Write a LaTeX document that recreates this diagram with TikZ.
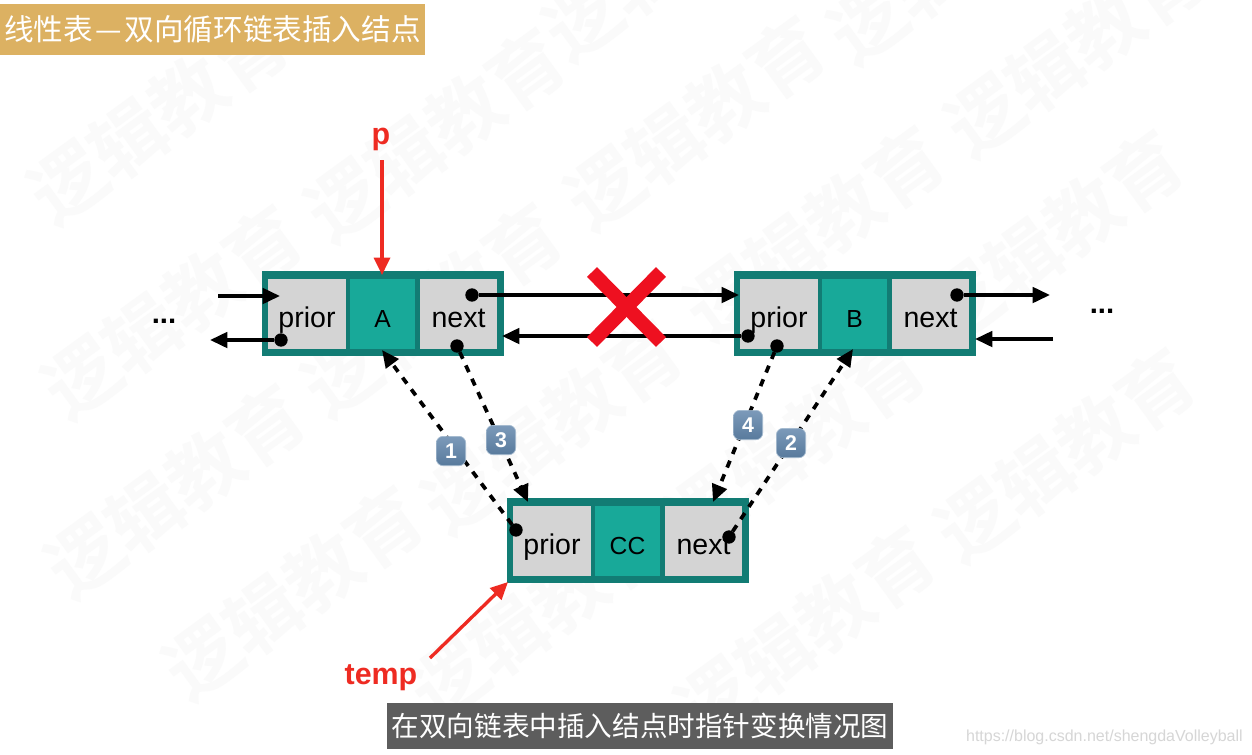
\documentclass[tikz,border=0pt]{standalone}
\usepackage{fontspec}
\setmainfont{Liberation Sans}
\newfontfamily\cjk{Noto Sans CJK SC}
\newfontfamily\cjkb{Noto Sans CJK SC Bold}
\usetikzlibrary{arrows.meta}
\definecolor{teald}{HTML}{127C74}
\definecolor{tealm}{HTML}{18A999}
\definecolor{cellg}{HTML}{D4D4D4}
\definecolor{redm}{HTML}{EE2B22}
\definecolor{redx}{HTML}{EE1020}
\definecolor{gold}{HTML}{DCB162}
\definecolor{capg}{HTML}{5D5D5D}
\definecolor{wm}{HTML}{FAFAFA}
\definecolor{badt}{HTML}{7C9ABA}
\definecolor{badb}{HTML}{587A9C}
\definecolor{bade}{HTML}{A4BACF}
\tikzset{
  outerbox/.style={fill=teald,draw=none,inner sep=0pt,outer sep=0pt,minimum width=181.5pt,minimum height=63.75pt},
  cellbox/.style={fill=cellg,inner sep=0pt,outer sep=0pt,minimum width=58pt,minimum height=52pt,text height=19.5pt,text depth=0pt,font=\fontsize{21.4pt}{24pt}\selectfont},
  midbox/.style={fill=tealm,inner sep=0pt,outer sep=0pt,minimum width=49pt,minimum height=52pt,text height=19.5pt,text depth=0pt,font=\fontsize{18.5pt}{22pt}\selectfont},
  dotn/.style={circle,fill=black,inner sep=0pt,outer sep=0pt,minimum size=10pt},
  link/.style={line width=2.8pt,-{Triangle[length=13pt,width=11.5pt]},black},
  dlink/.style={link,dash pattern=on 5.5pt off 5.5pt},
  redlink/.style={line width=2.5pt,redm,-{Triangle[length=13pt,width=12pt]}},
  crossbar/.style={redx,line width=10.5pt},
  badge/.style={rounded corners=5pt,top color=badt,bottom color=badb,draw=bade,line width=0.5pt,minimum size=22pt,inner sep=0pt,text=white,font=\fontsize{16pt}{18pt}\selectfont\bfseries},
  redtxt/.style={text=redm,font=\fontsize{22.8pt}{26pt}\selectfont\bfseries,inner sep=0pt},
  dots/.style={font=\fontsize{22pt}{24pt}\selectfont\bfseries,inner sep=0pt},
  wmark/.style={text=wm,rotate=36,inner sep=0pt,font=\fontsize{56pt}{60pt}\cjkb},
  title/.style={fill=gold,text=white,inner sep=0pt,outer sep=0pt,minimum width=319pt,minimum height=38.25pt,font=\fontsize{22.2pt}{25pt}\cjk},
  capbox/.style={fill=capg,text=white,inner sep=0pt,outer sep=0pt,minimum width=379.5pt,minimum height=34.5pt,font=\fontsize{20.7pt}{25pt}\cjk},
  url/.style={text=black!16,inner sep=0pt,font=\fontsize{12pt}{14pt}\selectfont}
}
\newcommand{\dlnode}[4]{%
  \node[outerbox] (#1o) at (#2+382.75,#3+313.5) {};
  \node[cellbox] (#1p) at (#2+307,#3+314) {prior};
  \node[midbox] (#1m) at (#2+382.5,#3+314) {#4};
  \node[cellbox] (#1n) at (#2+458.5,#3+314) {next};
}
\begin{document}
\begin{tikzpicture}[x=0.75pt,y=-0.75pt]
\useasboundingbox (0,0) rectangle (1252,754);
\fill[white] (0,0) rectangle (1252,754);
% watermark
\begin{scope}
\clip (0,0) rectangle (1252,754);
\node[wmark] (w01) at (673,-46) {逻辑教育};
\node[wmark] (w02) at (958,-43) {逻辑教育};
\node[wmark] (w11) at (158,117) {逻辑教育};
\node[wmark] (w12) at (435,135) {逻辑教育};
\node[wmark] (w13) at (695,123) {逻辑教育};
\node[wmark] (w14) at (1075,50) {逻辑教育};
\node[wmark] (w21) at (172,312) {逻辑教育};
\node[wmark] (w22) at (432,310) {逻辑教育};
\node[wmark] (w23) at (814,233) {逻辑教育};
\node[wmark] (w24) at (1053,237) {逻辑教育};
\node[wmark] (w31) at (175,491) {逻辑教育};
\node[wmark] (w32) at (552,427) {逻辑教育};
\node[wmark] (w33) at (795,443) {逻辑教育};
\node[wmark] (w34) at (1065,455) {逻辑教育};
\node[wmark] (w41) at (293,593) {逻辑教育};
\node[wmark] (w42) at (539,614) {逻辑教育};
\node[wmark] (w43) at (805,633) {逻辑教育};
\end{scope}
% title and caption
\node[title] (ttl) at (212.5,29.5) {线性表\hspace{2pt}—\hspace{2pt}双向循环链表插入结点\hspace{6pt}};
\node[capbox] (cap) at (640,726) {在双向链表中插入结点时指针变换情况图};
\node[url,anchor=east] (urlt) at (1243,737) {https://blog.csdn.net/shengdaVolleyball};
% nodes
\dlnode{a}{0}{0}{A}
\dlnode{b}{472}{0}{B}
\dlnode{c}{245}{227}{CC}
% dots
\node[dotn] (d1) at (281,340) {};
\node[dotn] (d2) at (472,295) {};
\node[dotn] (d3) at (457,346) {};
\node[dotn] (d4) at (748,336) {};
\node[dotn] (d5) at (777,346) {};
\node[dotn] (d6) at (957,295) {};
\node[dotn] (d7) at (516,530) {};
\node[dotn] (d8) at (729,537) {};
% free ends
\coordinate (l1s) at (218,296);
\coordinate (l1e) at (280,296);
\coordinate (l2e) at (210,340);
\coordinate (l3e) at (739,295);
\coordinate (l4e) at (502,336);
\coordinate (l5e) at (1050,295);
\coordinate (l6s) at (1053,339);
\coordinate (l6e) at (975,339);
\coordinate (t1) at (382,350);
\coordinate (t2) at (853,349);
\coordinate (t3) at (528,502);
\coordinate (t4) at (713,502);
\draw[link] (l1s) -- (l1e);
\draw[link] (d1) -- (l2e);
\draw[link] (d2) -- (l3e);
\draw[link] (d4) -- (l4e);
\draw[link] (d6) -- (l5e);
\draw[link] (l6s) -- (l6e);
\draw[dlink] (d7) -- (t1);
\draw[dlink] (d8) -- (t2);
\draw[dlink] (d3) -- (t3);
\draw[dlink] (d5) -- (t4);
% cross
\coordinate (x1) at (592,272);
\coordinate (x2) at (661,342);
\coordinate (x3) at (661,272);
\coordinate (x4) at (592,342);
\draw[crossbar] (x1) -- (x2);
\draw[crossbar] (x3) -- (x4);
% badges
\node[badge] (b1) at (451,451) {1};
\node[badge] (b3) at (501,440) {3};
\node[badge] (b4) at (748,425) {4};
\node[badge] (b2) at (791,443) {2};
% red labels
\node[redtxt] (p) at (381,139) {p};
\node[redtxt] (temp) at (381,678) {temp};
\coordinate (pe) at (382,275);
\coordinate (ps) at (382,160);
\coordinate (ts) at (430,658);
\coordinate (te) at (508,582);
\draw[redlink] (ps) -- (pe);
\draw[redlink] (ts) -- (te);
% dots labels
\node[dots] (dl) at (164,321) {...};
\node[dots] (dr) at (1102,311) {...};
\end{tikzpicture}
\end{document}
